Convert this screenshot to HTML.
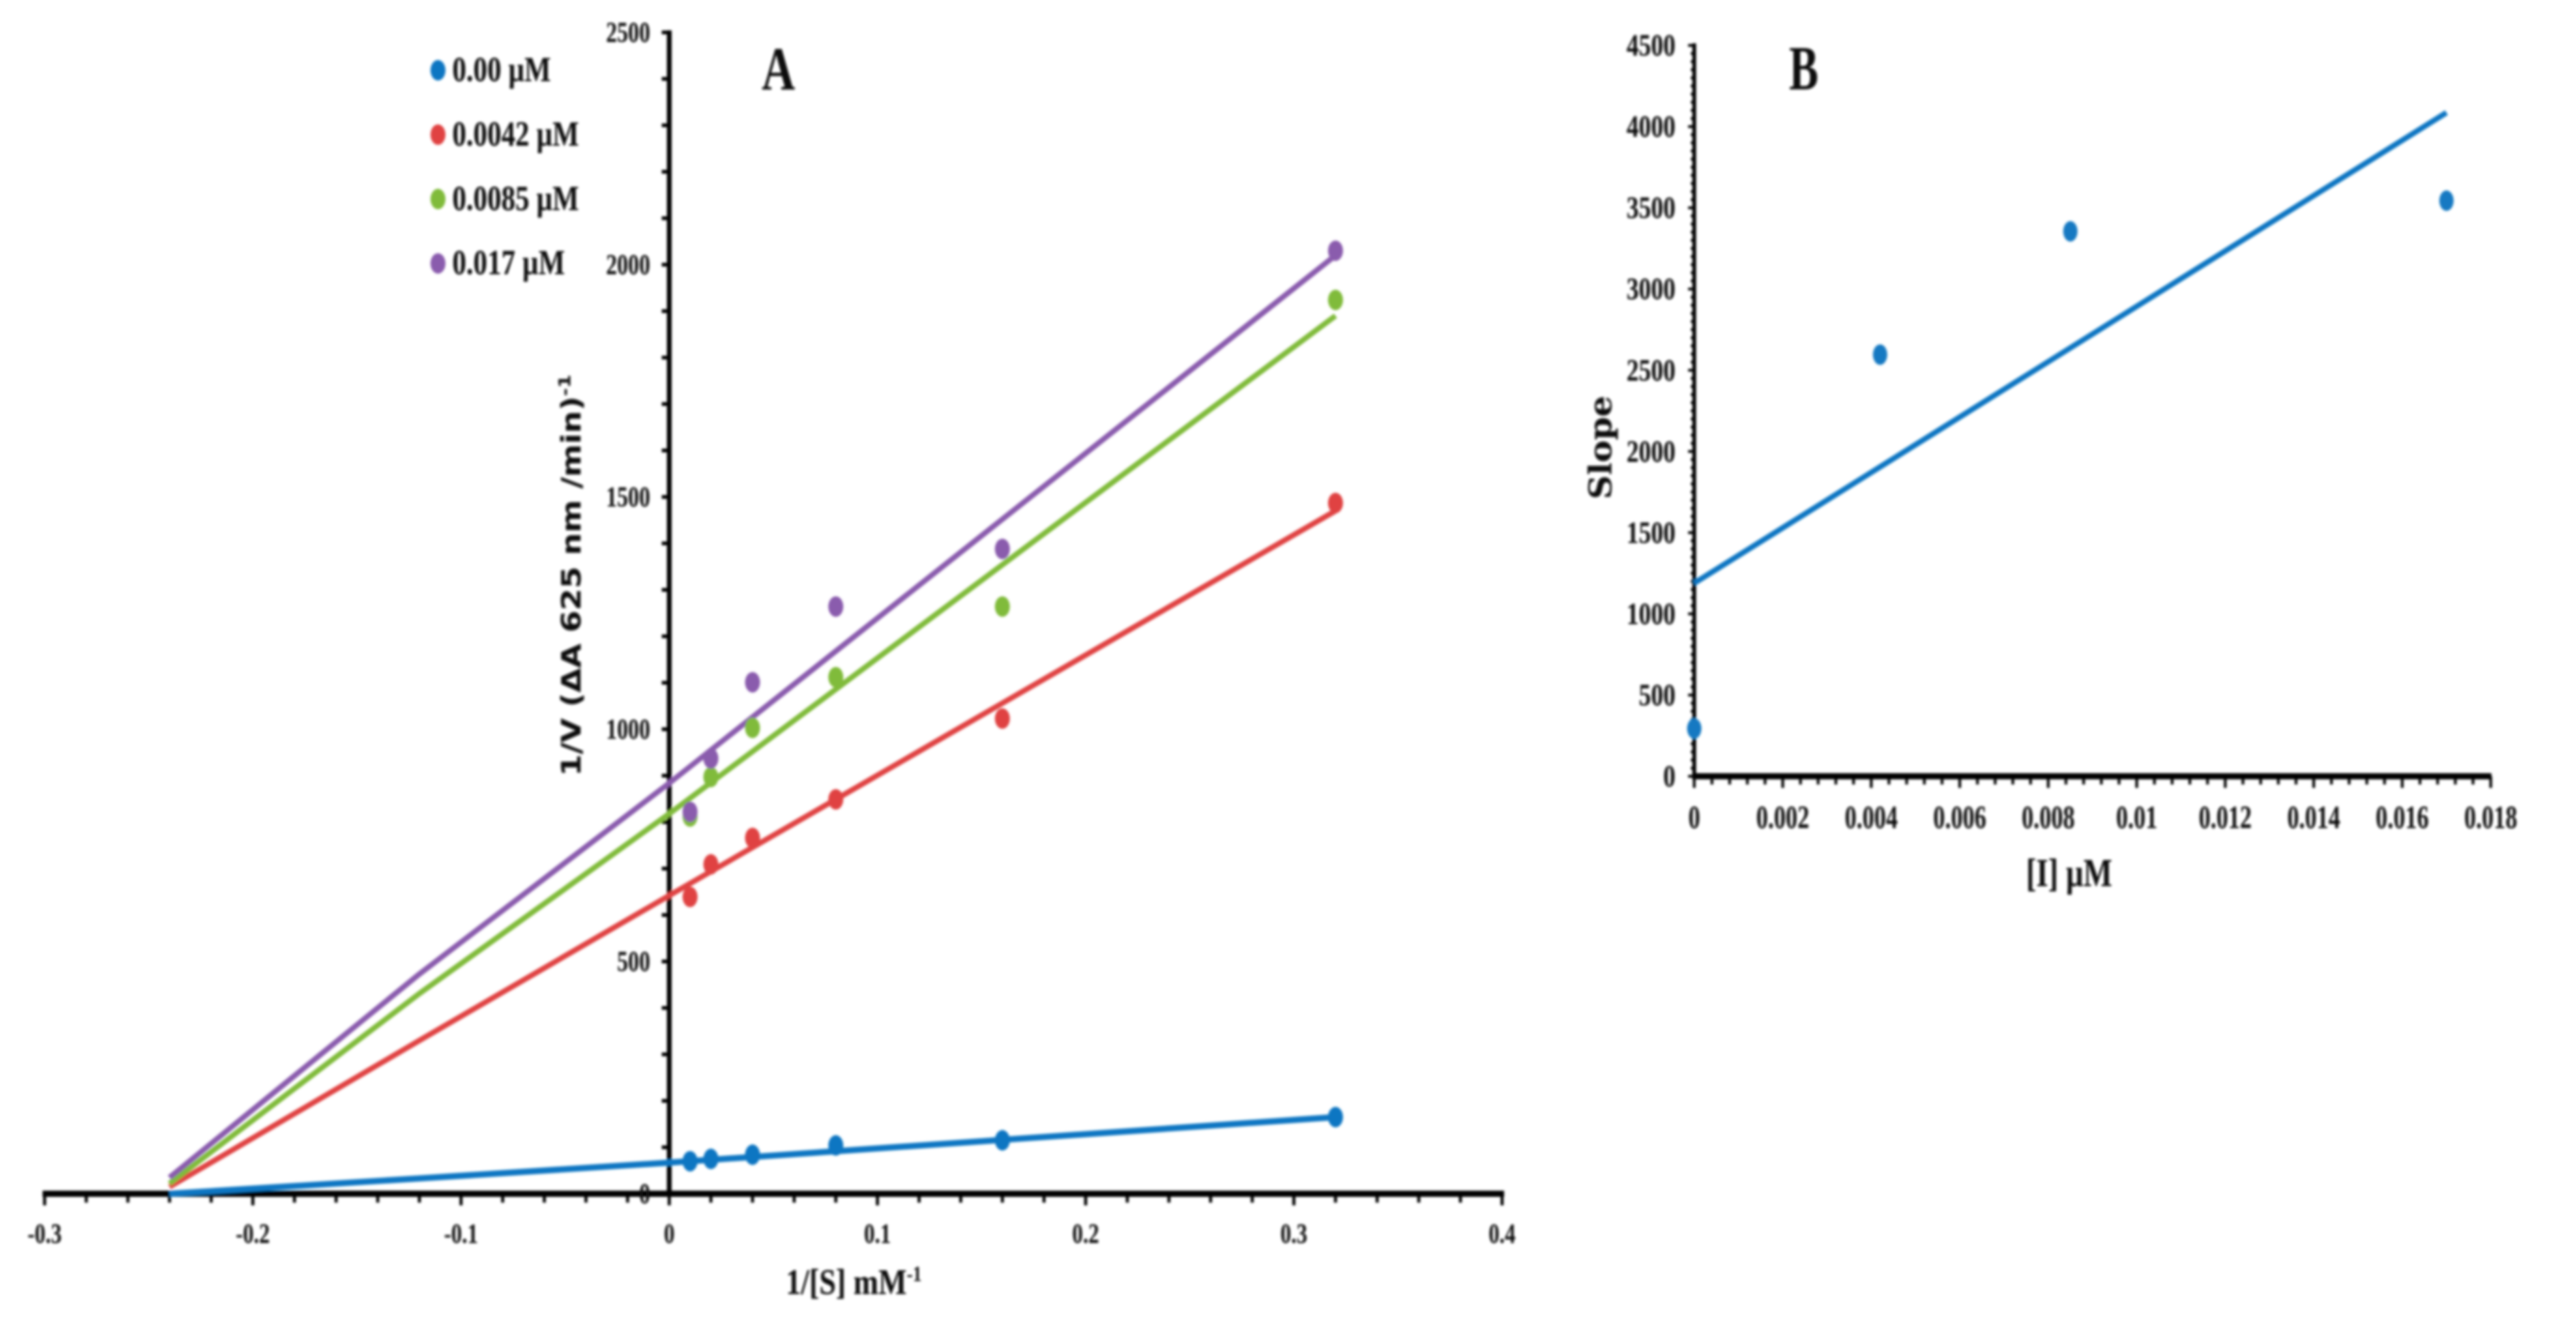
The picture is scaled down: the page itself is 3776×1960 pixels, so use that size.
<!DOCTYPE html>
<html lang="en">
<head>
<meta charset="utf-8">
<title>Lineweaver-Burk plot and secondary plot</title>
<style>
  html, body { margin: 0; padding: 0; background: #ffffff; }
  svg { display: block; }
  text { font-family: "Liberation Serif", serif; fill: #0a0a0a; }
</style>
</head>
<body>
<svg id="figure" xmlns="http://www.w3.org/2000/svg" width="3776" height="1960" viewBox="0 0 3776 1960">
  <defs>
    <filter id="soft" x="-5%" y="-5%" width="110%" height="110%"><feGaussianBlur stdDeviation="1.8"/></filter>
  </defs>
  <rect x="0" y="0" width="3776" height="1960" fill="#ffffff"/>
  <g id="root" filter="url(#soft)">
    <g id="panelA">
      <g id="axesA"></g>
      <g id="seriesA"></g>
      <g id="legendA"></g>
      <text transform="translate(1141,131) scale(0.75,1)" text-anchor="middle" font-size="90" font-weight="bold">A</text>
      <text transform="translate(1152,1897) scale(0.83,1)" font-size="53" font-weight="bold">1/[S] mM<tspan font-size="32" dy="-19">-1</tspan></text>
      <text transform="translate(851,1138) rotate(-90)" style="font-family:'DejaVu Sans',sans-serif" font-size="39" font-weight="bold" textLength="589" lengthAdjust="spacingAndGlyphs">1/V (ΔA 625 nm /min)<tspan font-size="24" dy="-15">-1</tspan></text>
    </g>
    <g id="panelB">
      <g id="axesB"></g>
      <g id="seriesB"></g>
      <text transform="translate(2644,131) scale(0.7,1)" text-anchor="middle" font-size="92" font-weight="bold">B</text>
      <text transform="translate(2970,1299) scale(0.77,1)" font-size="58" font-weight="bold">[I] µM</text>
      <text transform="translate(2362,732) rotate(-90)" style="font-family:'DejaVu Serif','Liberation Serif',serif" font-size="46" font-weight="bold" textLength="152" lengthAdjust="spacingAndGlyphs">Slope</text>
    </g>
  </g>
</svg>
<script>
// ---- Panel A data ----
const categoriesA = [0.01, 0.02, 0.04, 0.08, 0.16, 0.32];
const seriesNamesA = ["0.00 µM", "0.0042 µM", "0.0085 µM", "0.017 µM"];
const seriesColorsA = ["#0f76c2", "#e04343", "#80bb3b", "#8a5cad"];
const values000 = [70, 75, 84, 104, 115, 165];
const values0042 = [639, 709, 766, 849, 1023, 1487];
const values0085 = [812, 897, 1003, 1112, 1264, 1924];
const values017 = [822, 937, 1101, 1264, 1388, 2030];
const trendXA = [-0.24, -0.12, 0, 0.32];
const trend000 = [0, 33, 67, 165];
const trend0042 = [15, 330, 642, 1470];
const trend0085 = [22, 431, 818, 1890];
const trend017 = [35, 473, 884, 2020];
const xTicksA = [-0.3, -0.2, -0.1, 0, 0.1, 0.2, 0.3, 0.4];
const xTickLabelsA = ["-0.3", "-0.2", "-0.1", "0", "0.1", "0.2", "0.3", "0.4"];
const yTicksA = [0, 500, 1000, 1500, 2000, 2500];
const yTickLabelsA = ["0", "500", "1000", "1500", "2000", "2500"];

// ---- Panel B data ----
const categoriesB = [0, 0.0042, 0.0085, 0.017];
const valuesB = [294, 2596, 3355, 3544];
const trendXB = [0, 0.017];
const trendB = [1189, 4086];
const xTicksB = [0, 0.002, 0.004, 0.006, 0.008, 0.01, 0.012, 0.014, 0.016, 0.018];
const xTickLabelsB = ["0", "0.002", "0.004", "0.006", "0.008", "0.01", "0.012", "0.014", "0.016", "0.018"];
const yTicksB = [0, 500, 1000, 1500, 2000, 2500, 3000, 3500, 4000, 4500];
const yTickLabelsB = ["0", "500", "1000", "1500", "2000", "2500", "3000", "3500", "4000", "4500"];

// ---- Axis functions ----
const xA = v => 981 + v * 3052;
const yA = v => 1750 - v * 0.681;
const xB = v => 2483.5 + v * 64861;
const yB = v => 1138 - v * 0.2381;

const NS = "http://www.w3.org/2000/svg";
function mk(tag, parent, attrs) {
  const el = document.createElementNS(NS, tag);
  for (const k in attrs) el.setAttribute(k, attrs[k]);
  parent.appendChild(el);
  return el;
}
function line(parent, x1, y1, x2, y2, w, name) {
  const el = mk("line", parent, { x1, y1, x2, y2, stroke: "#050505", "stroke-width": w });
  
  
  return el;
}
function label(parent, str, x, y, size, sx, anchor, name) {
  const el = mk("text", parent, {
    transform: "translate(" + x + "," + y + ") scale(" + sx + ",1)",
    "font-size": size, "font-weight": "bold", "text-anchor": anchor
  });
  el.textContent = str;
  
  
  return el;
}
function dot(parent, cx, cy, rx, ry, fill, name) {
  const el = mk("ellipse", parent, { cx, cy, rx, ry, fill });
  
  
  return el;
}
function trend(parent, xs, ys, fx, fy, color, w, name) {
  const pts = xs.map((x, i) => fx(x).toFixed(1) + "," + fy(ys[i]).toFixed(1)).join(" ");
  const el = mk("polyline", parent, { points: pts, fill: "none", stroke: color, "stroke-width": w, "stroke-linejoin": "round" });
  
  
  return el;
}

// ---- Panel A axes ----
const axA = document.getElementById("axesA");
line(axA, xA(0), yA(2500) - 3, xA(0), yA(0) + 3, 7, "y-axis-line-a");
line(axA, xA(-0.3) - 3, yA(0), xA(0.4) + 3, yA(0), 9, "x-axis-line-a");
for (let i = 0; i <= 35; i++) {
  const v = -0.3 + i * 0.02;
  const major = i % 5 === 0;
  line(axA, xA(v), yA(0), xA(v), yA(0) + (major ? 17 : 13), 4.5, "x-tick-a");
}
for (let i = 0; i <= 25; i++) {
  const v = i * 100;
  line(axA, xA(0) - 11, yA(v), xA(0), yA(v), 5.5, "y-tick-a");
}
xTicksA.forEach((t, i) => {
  label(axA, xTickLabelsA[i], xA(t), 1822, 41, 0.77, "middle", "x-tick-label-a");
});
yTicksA.forEach((t, i) => {
  label(axA, yTickLabelsA[i], 953, yA(t) + 14, 42, 0.77, "end", "y-tick-label-a");
});

// ---- Panel A series ----
const sA = document.getElementById("seriesA");
const allValuesA = [values000, values0042, values0085, values017];
const allTrendsA = [trend000, trend0042, trend0085, trend017];
allValuesA.forEach((vals, s) => {
  trend(sA, trendXA, allTrendsA[s], xA, yA, seriesColorsA[s], s === 0 ? 9 : 8, "trendline-a-" + s);
});
allValuesA.forEach((vals, s) => {
  categoriesA.forEach((c, i) => {
    dot(sA, xA(c), yA(vals[i]), 11, 15, seriesColorsA[s], "point-a-" + s);
  });
});

// ---- Panel A legend ----
const lg = document.getElementById("legendA");
seriesNamesA.forEach((n, i) => {
  const yy = 103 + i * 94.4;
  dot(lg, 642, yy, 11, 15, seriesColorsA[i], "legend-marker-" + i);
  label(lg, n, 663, yy + 16, 52, 0.79, "start", "legend-label-" + i);
});

// ---- Panel B axes ----
const axB = document.getElementById("axesB");
line(axB, xB(0), yB(4500) - 3, xB(0), yB(0) + 3, 5.5, "y-axis-line-b");
line(axB, xB(0) - 3, yB(0), xB(0.018) + 1, yB(0), 9, "x-axis-line-b");
for (let i = 0; i <= 45; i++) {
  const v = i * 0.0004;
  const major = i % 5 === 0;
  line(axB, xB(v), yB(0), xB(v), yB(0) + (major ? 17 : 12), 4, "x-tick-b");
}
for (let i = 0; i <= 90; i++) {
  const v = i * 50;
  const major = i % 10 === 0;
  line(axB, xB(0) - (major ? 9 : 5), yB(v), xB(0), yB(v), 4, "y-tick-b");
}
xTicksB.forEach((t, i) => {
  label(axB, xTickLabelsB[i], xB(t), 1214, 48, 0.72, "middle", "x-tick-label-b");
});
yTicksB.forEach((t, i) => {
  label(axB, yTickLabelsB[i], 2456, yB(t) + 15, 46, 0.78, "end", "y-tick-label-b");
});

// ---- Panel B series ----
const sB = document.getElementById("seriesB");
trend(sB, trendXB, trendB, xB, yB, "#0f76c2", 8, "trendline-b");
categoriesB.forEach((c, i) => {
  dot(sB, xB(c), yB(valuesB[i]), 10.5, 15, "#1479c2", "point-b");
});
</script>
</body>
</html>
